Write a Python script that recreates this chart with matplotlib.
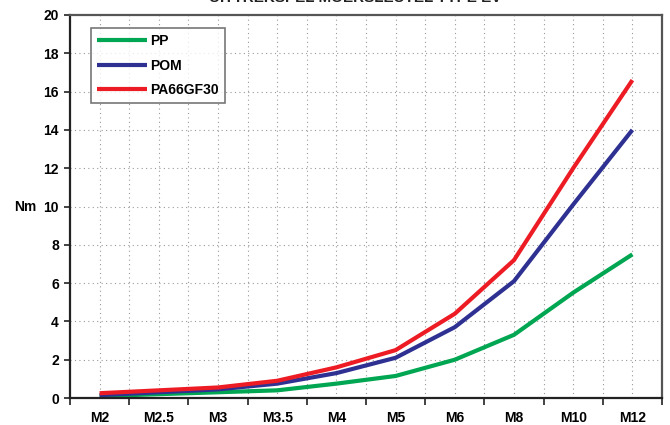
import matplotlib
matplotlib.use("Agg")
import matplotlib.pyplot as plt
import numpy as np

categories = ["M2", "M2.5", "M3", "M3.5", "M4", "M5", "M6", "M8", "M10", "M12"]
pp = [0.1, 0.2, 0.3, 0.4, 0.75, 1.15, 2.0, 3.3, 5.5, 7.5]
pom = [0.15, 0.3, 0.45, 0.75, 1.3, 2.1, 3.7, 6.1, 10.1, 14.0]
pa66 = [0.25, 0.4, 0.55, 0.9, 1.6, 2.5, 4.4, 7.2, 12.0, 16.6]
yticks = [0, 2, 4, 6, 8, 10, 12, 14, 16, 18, 20]

plt.rcParams['font.family'] = ['Liberation Sans', 'DejaVu Sans']
plt.rcParams['font.weight'] = 'bold'

fig = plt.figure(figsize=(6.7, 4.25), dpi=100)
ax = fig.add_axes([70/670, 1 - 398/425, 592/670, 383/425])

x = np.arange(len(categories))
ax.plot(x, pp, color="#00A651", lw=3, label="PP", solid_capstyle='butt')
ax.plot(x, pom, color="#2E3192", lw=3, label="POM", solid_capstyle='butt')
ax.plot(x, pa66, color="#ED1C24", lw=3, label="PA66GF30", solid_capstyle='butt')

ax.set_xlim(-0.5, len(categories) - 0.5)
ax.set_ylim(0, 20)
ax.set_yticks(yticks)
ax.set_yticklabels([str(v) for v in yticks], fontsize=10, fontweight='bold')
ax.set_xticks(x)
ax.set_xticklabels(categories, fontsize=10, fontweight='bold')
ax.tick_params(axis='x', which='major', length=0, pad=9)
ax.set_xticks(np.arange(-0.5, len(categories), 1.0), minor=True)
ax.tick_params(axis='x', which='minor', length=5, width=1.2, direction='out', color='#222222')
ax.tick_params(axis='y', length=4, width=1.2, direction='out', color='#222222', pad=4)

# grids
for gx in np.arange(0, len(categories) - 0.4, 0.5):
    ax.axvline(gx, color='#999999', lw=0.8, ls=(0, (1, 3)), zorder=0)
for gy in yticks[1:-1]:
    ax.axhline(gy, color='#999999', lw=0.8, ls=(0, (1, 3)), zorder=0)

for s in ['left', 'bottom']:
    ax.spines[s].set_color('#222222')
    ax.spines[s].set_linewidth(1.6)
for s in ['top', 'right']:
    ax.spines[s].set_color('#555555')
    ax.spines[s].set_linewidth(1.6)

ax.set_ylabel("Nm", rotation=0, fontsize=10, fontweight='bold', va='center')
ax.yaxis.set_label_coords(-0.075, 0.5)

leg = ax.legend(loc='upper left', bbox_to_anchor=(21/592, (398-28)/383), borderaxespad=0,
                frameon=True, fancybox=False, edgecolor='#555555', handlelength=3.6,
                handletextpad=0.2, labelspacing=0.75, borderpad=0.45,
                prop={'weight': 'bold', 'size': 10})
leg.get_frame().set_linewidth(1.2)

fig.text(355/670, 1 - 2/425, "UITTREKSPEL MOERSLEUTEL TYPE EV", ha='center', va='baseline',
         fontsize=11, fontweight='bold', color='#222222')

fig.savefig("out.png", dpi=100)
